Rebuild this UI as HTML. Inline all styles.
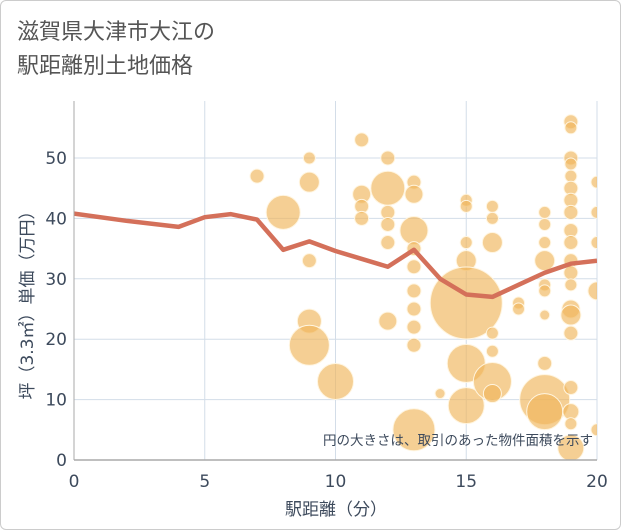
<!DOCTYPE html>
<html><head><meta charset="utf-8"><style>
body{margin:0;background:#fff;}
#wrap{position:relative;width:619px;height:528px;border:1px solid #ccc;border-radius:6px;overflow:hidden;font-family:"DejaVu Sans","Noto Sans CJK JP",sans-serif;}
.title{position:absolute;left:16px;top:14px;font-size:22px;line-height:34px;color:#555;font-family:"Liberation Sans","Noto Sans CJK JP",sans-serif;}
svg{position:absolute;left:0;top:0;}
</style></head><body>
<div id="wrap">
<div class="title">滋賀県大津市大江の<br>駅距離別土地価格</div>
<svg id="chart" width="621" height="530"></svg>
</div>
<script>
const xTicks=[0,5,10,15,20];
const yTicks=[0,10,20,30,40,50];
const lineX=[0,2,4,5,6,7,8,9,10,12,13,14,15,16,17,18,19,20];
const lineY=[40.8,39.6,38.6,40.2,40.7,39.8,34.8,36.2,34.6,32,34.8,30,27.4,27,29,31,32.5,33];
const bubX=[7,8,9,9,9,9,9,10,11,11,11,11,12,12,12,12,12,12,13,13,13,13,13,13,13,13,13,13,14,15,15,15,15,15,15,15,16,16,16,16,16,16,16,17,17,18,18,18,18,18,18,18,18,18,18,19,19,19,19,19,19,19,19,19,19,19,19,19,19,19,19,19,19,19,19,20,20,20,20,20];
const bubY=[47,41,50,46,33,23,19,13,53,44,42,40,50,45,41,39,36,23,46,44,38,35,32,28,25,22,19,5,11,43,42,36,33,26,16,9,42,40,36,21,18,13,11,26,25,41,39,36,33,29,28,24,16,10,8,56,55,50,49,47,45,43,41,38,36,33,31,29,25,24,21,12,8,6,2,46,41,36,28,5];
const bubR=[7,17,6,10,7,12,20,18,7,9,7,7,7,17,7,7,7,9,7,9,14,7,7,7,7,7,7,21,5,6,6,6,10,36,19,18,6,6,10,6,6,19,9,6,6,6,6,6,10,6,6,5,7,25,18,7,6,7,6,6,7,7,7,7,7,7,7,6,9,10,7,7,8,6,13,6,6,6,9,6];
const svg=document.getElementById('chart');const NS='http://www.w3.org/2000/svg';
const X0=73,X1=596,Y0=459,Y1=157;
const sx=v=>X0+(X1-X0)*v/20, sy=v=>Y0-(Y0-Y1)*v/50;
function mk(t,a,p){const e=document.createElementNS(NS,t);for(const k in a)e.setAttribute(k,a[k]);(p||svg).appendChild(e);return e;}
const clip=mk('clipPath',{id:'pc'});mk('rect',{x:X0,y:100,width:X1-X0,height:Y0-100},clip);
xTicks.forEach(t=>{const l=mk('line',{x1:sx(t),x2:sx(t),y1:100,y2:Y0,stroke:'#d3dde8','stroke-width':1});


const tx=mk('text',{x:sx(t),y:486,'text-anchor':'middle','font-size':17,fill:'#3d4a5c'});tx.textContent=t;

});
yTicks.forEach(t=>{const l=mk('line',{x1:X0,x2:X1,y1:sy(t),y2:sy(t),stroke:'#d3dde8','stroke-width':1});


const tx=mk('text',{x:66,y:sy(t)+6,'text-anchor':'end','font-size':17,fill:'#3d4a5c'});tx.textContent=t;

});
const g=mk('g',{'clip-path':'url(#pc)'});
bubX.forEach((x,i)=>{const c=mk('circle',{cx:sx(x),cy:sy(bubY[i]),r:bubR[i],fill:'#f0b65a','fill-opacity':0.65,stroke:'#fff5e0','stroke-width':1},g);

});
const pl=mk('polyline',{points:lineX.map((x,i)=>sx(x)+','+sy(lineY[i])).join(' '),fill:'none',stroke:'#d4705a','stroke-width':4.5,'stroke-linejoin':'round'},g);


const ax=mk('line',{x1:X0,x2:X0,y1:100,y2:Y0,stroke:'#aaa','stroke-width':1});


const bx=mk('line',{x1:X0,x2:X1,y1:Y0,y2:Y0,stroke:'#aaa','stroke-width':1.5});


const note=mk('text',{x:592,y:444,'text-anchor':'end','font-size':13.5,fill:'#3d4a5c'});note.textContent='円の大きさは、取引のあった物件面積を示す';


const xt=mk('text',{x:335,y:514,'text-anchor':'middle','font-size':17,fill:'#3d4a5c'});xt.textContent='駅距離（分）';


const yt=mk('text',{x:0,y:0,'text-anchor':'middle','font-size':17,fill:'#3d4a5c',transform:'translate(32,300) rotate(-90)'});yt.textContent='坪（3.3㎡）単価（万円）';


</script>
</body></html>
